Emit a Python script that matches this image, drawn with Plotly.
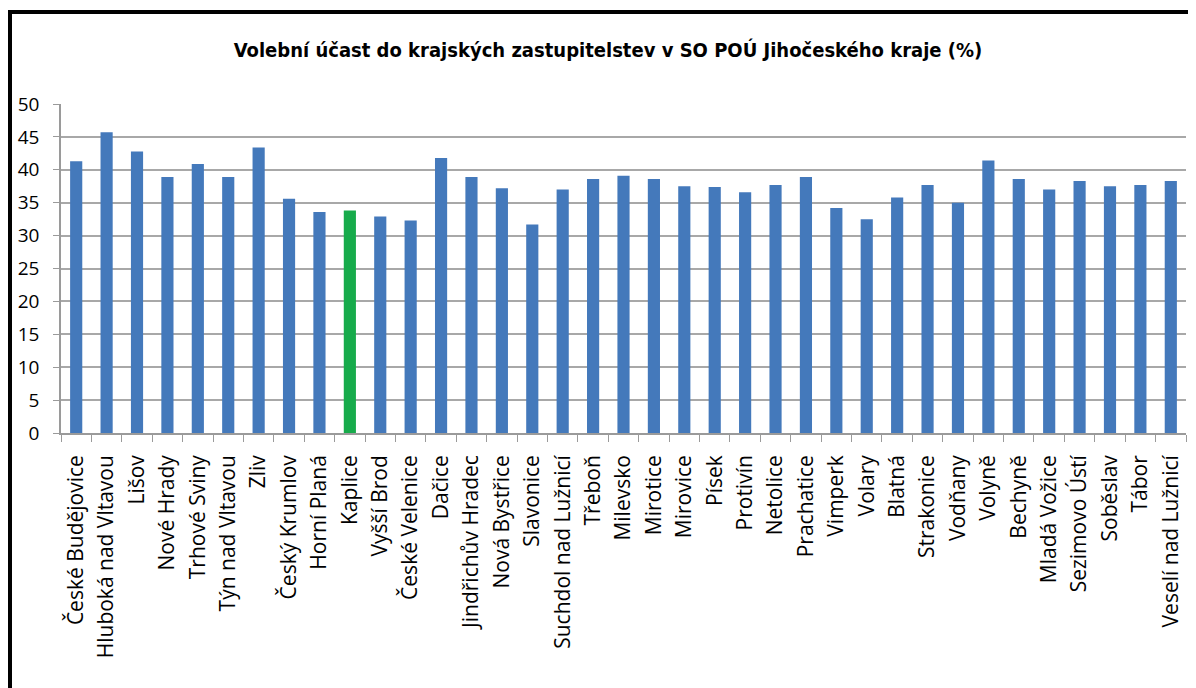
import plotly.graph_objects as go

categories = ["České Budějovice", "Hluboká nad Vltavou", "Lišov", "Nové Hrady", "Trhové Sviny",
              "Týn nad Vltavou", "Zliv", "Český Krumlov", "Horní Planá", "Kaplice", "Vyšší Brod",
              "České Velenice", "Dačice", "Jindřichův Hradec", "Nová Bystřice", "Slavonice",
              "Suchdol nad Lužnicí", "Třeboň", "Milevsko", "Mirotice", "Mirovice", "Písek",
              "Protivín", "Netolice", "Prachatice", "Vimperk", "Volary", "Blatná", "Strakonice",
              "Vodňany", "Volyně", "Bechyně", "Mladá Vožice", "Sezimovo Ústí", "Soběslav",
              "Tábor", "Veselí nad Lužnicí"]
values = [41.3, 45.7, 42.8, 38.9, 40.9, 38.9, 43.4, 35.6, 33.6, 33.8, 32.9, 32.3,
          41.8, 38.9, 37.2, 31.7, 37.0, 38.6, 39.1, 38.6, 37.5, 37.4, 36.6, 37.7, 38.9,
          34.2, 32.5, 35.8, 37.7, 35.0, 41.4, 38.6, 37.0, 38.3, 37.5, 37.7, 38.3]
highlight = "Kaplice"
title_text = "Volební účast do krajských zastupitelstev v SO POÚ Jihočeského kraje (%)"
y_ticks = [0, 5, 10, 15, 20, 25, 30, 35, 40, 45, 50]

blue = "#4479BB"
green = "#17AB4B"
colors = [green if c == highlight else blue for c in categories]

fig = go.Figure(go.Bar(x=categories, y=values, marker=dict(color=colors, line=dict(width=0)),
                       hoverinfo="x+y"))

# page body has an 8px margin; work in reference-page pixels and shift
OFF = 8
W, H = 1196 - OFF, 688 - OFF
plot_l, plot_r, plot_t, plot_b = 61 - OFF, 1186 - OFF, 104 - OFF, 433 - OFF
L, R, T, B = plot_l, W - plot_r, plot_t, H - plot_b
pw, ph = plot_r - plot_l, plot_b - plot_t

def px(x):
    return (x - OFF - plot_l) / pw

def py(y):
    return (plot_b - (y - OFF)) / ph

fig.update_layout(
    width=W, height=H,
    margin=dict(l=L, r=R, t=T, b=B),
    paper_bgcolor="white", plot_bgcolor="white",
    bargap=0.6,
    showlegend=False,
    title=dict(text="<b>" + title_text + "</b>", x=(608 - OFF) / W, xref="container", xanchor="center",
               y=1 - (50 - OFF) / H, yanchor="middle",
               font=dict(family="DejaVu Sans Condensed, Liberation Sans Narrow, sans-serif",
                         size=20, color="black")),
    font=dict(family="Open Sans, DejaVu Sans, sans-serif", color="black"),
    xaxis=dict(type="category", tickangle=-90, tickfont=dict(size=21, color="black"),
               ticks="outside", tickson="boundaries", ticklen=7, tickcolor="#9A9A9A",
               ticklabelstandoff=12,
               showline=True, linecolor="#9A9A9A", linewidth=1.5, showgrid=False,
               range=[-0.5, len(categories) - 0.5]),
    yaxis=dict(range=[0, 50], tickvals=y_ticks, tickfont=dict(size=19, color="black"),
               ticks="outside", ticklen=6, tickcolor="#9A9A9A", ticklabelstandoff=10,
               showline=True, linecolor="#9A9A9A", linewidth=1.5,
               showgrid=True, gridcolor="#A8A8A8", gridwidth=1.5, zeroline=False),
    shapes=[
        dict(type="line", xref="paper", yref="paper", x0=px(8), x1=px(1210), y0=py(12), y1=py(12),
             line=dict(color="black", width=4)),
        dict(type="line", xref="paper", yref="paper", x0=px(10), x1=px(10), y0=py(10), y1=py(700),
             line=dict(color="black", width=4)),
    ],
)

fig.write_html("out.html")
